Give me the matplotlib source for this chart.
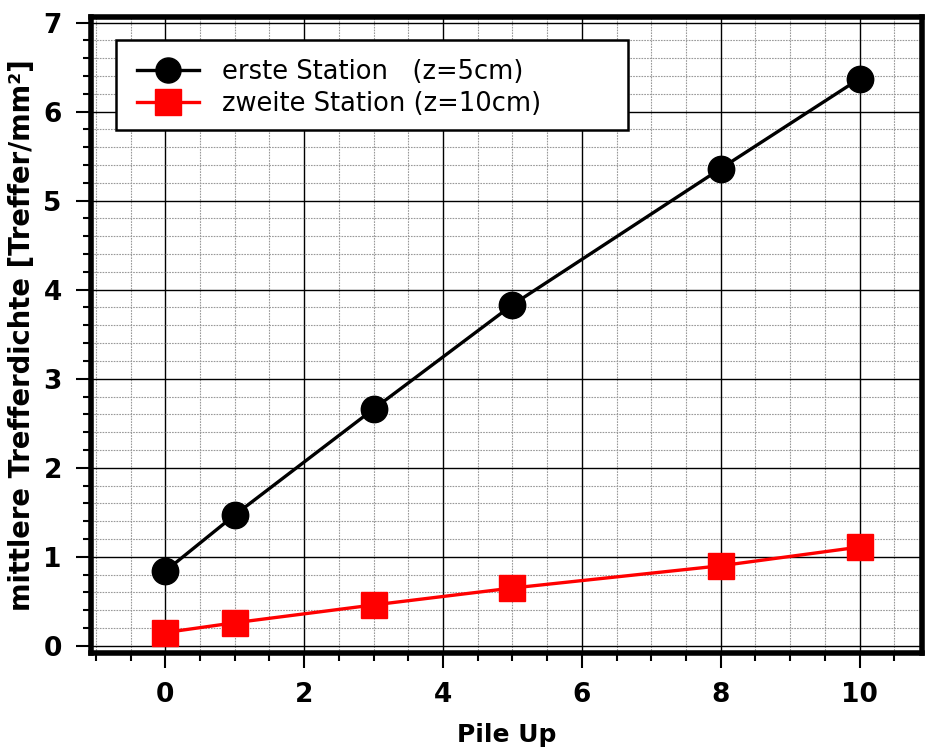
import matplotlib
matplotlib.use('Agg')
import matplotlib.pyplot as plt
from matplotlib.patches import Rectangle
from matplotlib.ticker import MultipleLocator

# Data
pile_up = [0, 1, 3, 5, 8, 10]
station1 = [0.84, 1.47, 2.66, 3.83, 5.36, 6.37]
station2 = [0.15, 0.26, 0.46, 0.65, 0.90, 1.11]
label1 = "erste Station   (z=5cm)"
label2 = "zweite Station (z=10cm)"

fig = plt.figure(figsize=(9.25, 7.47), dpi=100)
ax = fig.add_axes([0.0984, 0.1258, 0.8984, 0.8512])

ax.plot(pile_up, station1, color="black", lw=2.4, marker="o", ms=19,
        label=label1, zorder=5)
ax.plot(pile_up, station2, color="red", lw=2.4, marker="s", ms=19,
        label=label2, zorder=5)

ax.set_xlim(-1.07, 10.9)
ax.set_ylim(-0.08, 7.06)

ax.xaxis.set_major_locator(MultipleLocator(2))
ax.xaxis.set_minor_locator(MultipleLocator(0.5))
ax.yaxis.set_major_locator(MultipleLocator(1))
ax.yaxis.set_minor_locator(MultipleLocator(0.2))

# Grid: solid black majors, dotted grey minors
ax.grid(which="major", color="black", lw=1.0, ls="-")
ax.grid(which="minor", color="#999999", lw=0.8, ls=(0, (1.5, 1)))
ax.set_axisbelow(True)

ax.tick_params(which="both", direction="out", top=False, right=False,
               width=1.5, pad=10)
ax.tick_params(which="major", length=11, labelsize=19)
ax.tick_params(which="minor", length=6)
for lab in ax.get_xticklabels() + ax.get_yticklabels():
    lab.set_fontweight("bold")

for side in ["left", "bottom", "top", "right"]:
    ax.spines[side].set_linewidth(4)

ax.set_xlabel("Pile Up", fontsize=18, fontweight="bold", labelpad=11)
ax.set_ylabel("mittlere Trefferdichte [Treffer/mm²]", fontsize=19.8,
              fontweight="bold", labelpad=5)

# legend box is wider than its text, so draw the frame separately
box = Rectangle((0.030, 0.822), 0.616, 0.142, transform=ax.transAxes,
                facecolor="white", edgecolor="black", lw=1.8, zorder=6)
ax.add_patch(box)
leg = ax.legend(loc="upper left", bbox_to_anchor=(0.026, 0.972), fontsize=18.5,
                frameon=False, handlelength=2.4, borderpad=0.45,
                labelspacing=0.22, handletextpad=0.9, markerscale=0.95)
leg.set_zorder(7)

fig.savefig("out.png", dpi=100)
